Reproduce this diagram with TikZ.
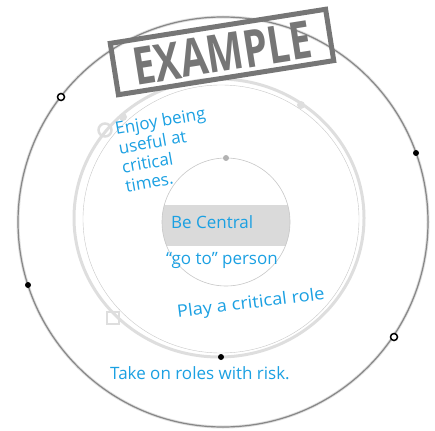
\documentclass[tikz,border=0pt]{standalone}
\usepackage{fontspec}
\setmainfont{Open Sans}
\usepackage{tikz}

\definecolor{ink}{RGB}{27,160,226}
\definecolor{band}{RGB}{218,218,218}
\definecolor{pale}{RGB}{222,222,222}
\definecolor{rim}{RGB}{135,135,135}
\definecolor{stampgray}{RGB}{118,118,118}

\tikzset{
	note/.style={text=ink,font=\fontsize{17}{19.5}\selectfont,inner sep=0pt},
	hollow/.style={draw=black,line width=1.5pt,fill=white},
}

\begin{document}
\begin{tikzpicture}[x=1pt,y=-1pt]
	\useasboundingbox (0,0) rectangle (435,430);

	\coordinate (o) at (223,222);
	\coordinate (m) at (219,218);
	\coordinate (n) at (221,219);
	\coordinate (c) at (226,222);

	% outer ring
	\draw[line width=3pt,black!12] (o) circle (205);
	\draw[line width=1.2pt,rim] (o) circle (205);

	% middle ring
	\draw[line width=3pt,pale] (m) ellipse (145 and 139);
	\draw[line width=.4pt,black!22] (n) ellipse (138 and 134);

	% inner circle with its band
	\begin{scope}
		\clip (c) circle (64);
		\fill[band] (150,205) rectangle (300,246);
	\end{scope}
	\draw[line width=.6pt,black!22] (c) circle (64);

	% marks on the rings
	\coordinate (top) at (226,158);
	\coordinate (ring1) at (105,130);
	\coordinate (ring2) at (123,117);
	\coordinate (ring3) at (301,105);
	\coordinate (ring4) at (113,318);
	\coordinate (ring5) at (221,357);
	\fill[black!30] (top) circle (3);
	\draw[pale,line width=2.5pt] (ring1) circle (6.5);
	\fill[pale] (ring2) circle (4);
	\fill[pale] (ring3) circle (4);
	\draw[pale,line width=2pt] (ring4) ++(-6,-6) rectangle ++(12,12);
	\fill (ring5) circle (3);

	\coordinate (rim1) at (61,97);
	\coordinate (rim2) at (28,285);
	\coordinate (rim3) at (416,153);
	\coordinate (rim4) at (394,337);
	\draw[hollow] (rim1) circle (3.5);
	\fill (rim2) circle (3);
	\fill (rim3) circle (3);
	\draw[hollow] (rim4) circle (3.5);

	% stamp
	\node[draw=stampgray,line width=5pt,rotate=9,minimum width=218pt,minimum height=52pt] (stamp) at (222,52) {};
	\node[text=stampgray,font=\fontsize{52}{52}\selectfont\bfseries,rotate=9,xscale=.75,inner sep=0pt] (word) at (222,53) {EXAMPLE};

	% texts
	\node[note,rotate=10,align=left,anchor=north west] (enjoy) at (114,122) {Enjoy being\\useful at\\critical\\times.};
	\node[note,anchor=west] (central) at (171,222) {Be Central};
	\node[note] (goto) at (222,260) {“go to” person};
	\node[note,rotate=7,xscale=1.08] (play) at (251,304) {Play a critical role};
	\node[note] (risk) at (200,373) {Take on roles with risk.};

\end{tikzpicture}
\end{document}
